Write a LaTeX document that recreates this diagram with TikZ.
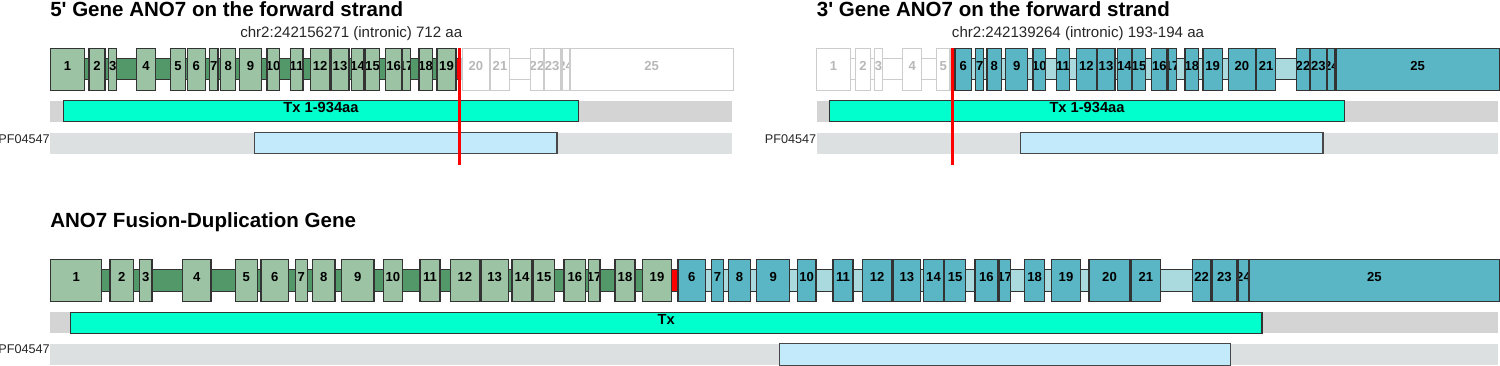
\documentclass[tikz,border=0pt]{standalone}
\usepackage{fontspec}
\setmainfont{Liberation Sans}[Ligatures=TeXOff]
\definecolor{gex}{HTML}{9CC4A4}
\definecolor{gin}{HTML}{529868}
\definecolor{tex}{HTML}{5AB6C4}
\definecolor{tin}{HTML}{AADADE}
\definecolor{edge}{HTML}{333333}
\definecolor{greyedge}{HTML}{CCCCCC}
\definecolor{greylab}{HTML}{B8B8B8}
\definecolor{txc}{HTML}{00FFCC}
\definecolor{txbg}{HTML}{D4D4D4}
\definecolor{pfc}{HTML}{C2EAFA}
\definecolor{pfbg}{HTML}{DCE0E0}
\begin{document}
\begin{tikzpicture}[x=0.75pt,y=-0.75pt,
  box/.style={rectangle, inner sep=0pt, outer sep=0pt, line width=0.8pt},
  gexon/.style={box, draw=edge, fill=gex, minimum height=31.5pt},
  texon/.style={box, draw=edge, fill=tex, minimum height=31.5pt},
  wexon/.style={box, draw=greyedge, fill=white, minimum height=31.5pt},
  gintron/.style={box, draw=edge, fill=gin, minimum height=16pt},
  tintron/.style={box, draw=edge, fill=tin, minimum height=16pt},
  wintron/.style={box, draw=greyedge, fill=white, minimum height=16pt},
  rintron/.style={box, draw=edge, fill=red, minimum height=16pt},
  exlab/.style={path picture={\node[inner sep=0pt, anchor=base, font=\bfseries\fontsize{9.8}{10}\selectfont] at ([yshift=-1.1pt]path picture bounding box.center) {#1};}},
  wexlab/.style={path picture={\node[inner sep=0pt, anchor=base, text=greylab, font=\bfseries\fontsize{9.8}{10}\selectfont] at ([yshift=-1.1pt]path picture bounding box.center) {#1};}},
  bgbar/.style={box, minimum height=16pt, anchor=west},
  txbar/.style={box, draw=edge, fill=txc, minimum height=16pt, anchor=west},
  pfbar/.style={box, draw=edge!90, fill=pfc, minimum height=16pt, anchor=west},
  title/.style={inner sep=0pt, anchor=base west, font=\bfseries\fontsize{15.4}{18}\selectfont},
  subtitle/.style={inner sep=0pt, anchor=base west, font=\fontsize{11.3}{13}\selectfont, text=black!85},
  txlab/.style={inner sep=0pt, anchor=base, font=\bfseries\fontsize{11}{12}\selectfont},
  pflab/.style={inner sep=0pt, anchor=base east, font=\fontsize{9.5}{11}\selectfont, text=black!85},
  redline/.style={draw=red, line width=2.25pt}
]
\useasboundingbox (0,0) rectangle (1500,366);

% ================= top-left panel =================
\node[title] (t1) at (50,16.7) {5' Gene ANO7 on the forward strand};
\node[subtitle] (s1) at (240,37.5) {chr2:242156271 (intronic) 712 aa};
\node[gintron, minimum width={(456-84.3)*0.75pt}, anchor=west] (tlgi) at (84.3,69.2) {};
\node[rintron, minimum width={(462-456)*0.75pt}, anchor=west] (tlri) at (456,69.2) {};
\node[wintron, minimum width={(570-462)*0.75pt}, anchor=west] (tlwi) at (462,69.2) {};
\foreach \a/\b/\l in {50.7/84.3/1, 89/105/2, 108.7/116.7/3, 136.3/155.7/4, 170.3/185.7/5, 187.3/205.3/6, 209.3/218/7, 220.7/235.7/8, 239.7/261.3/9, 267/279.3/10, 290.3/303/11, 310.3/330/12, 331/349/13, 351.3/364/14, 365.7/379.3/15, 385.7/401.7/16, 402/410.3/17, 419/432.3/18, 437/456/19}
  \node[gexon, exlab=\l, minimum width={(\b-\a)*0.75pt}, anchor=west] (tl\l) at (\a,69.2) {};
\foreach \a/\b/\l in {462.3/489.3/20, 490.3/509.7/21, 530.7/543.3/22, 544/560.3/23, 562/569.3/24, 570/733.3/25}
  \node[wexon, wexlab=\l, minimum width={(\b-\a)*0.75pt}, anchor=west] (tl\l) at (\a,69.2) {};
\node[bgbar, fill=txbg, minimum width={(731.7-50)*0.75pt}] (tltxbg) at (50,111.3) {};
\node[txbar, minimum width={(578.7-63.3)*0.75pt}] (tltx) at (63.3,111.3) {};
\node[txlab] (tltxl) at (321,112.7) {Tx 1-934aa};
\node[bgbar, fill=pfbg, minimum width={(731.7-50)*0.75pt}] (tlpfbg) at (50,143.2) {};
\node[pfbar, minimum width={(557-254.3)*0.75pt}] (tlpf) at (254.3,143.2) {};
\node[pflab] (tlpfl) at (50,143.3) {PF04547};
\coordinate (c1a) at (459.3,48);
\coordinate (c1b) at (459.3,165);
\draw[redline] (c1a) -- (c1b);

% ================= top-right panel =================
\node[title] (t2) at (816.7,16.7) {3' Gene ANO7 on the forward strand};
\node[subtitle] (s2) at (951.7,37.5) {chr2:242139264 (intronic) 193-194 aa};
\node[wintron, minimum width={(950-850.3)*0.75pt}, anchor=west] (trwi) at (850.3,69.2) {};
\node[tintron, minimum width={(1336-950)*0.75pt}, anchor=west] (trti) at (950,69.2) {};
\foreach \a/\b/\l in {816.7/850.3/1, 855.3/870.7/2, 874.3/882.7/3, 902.7/921.7/4, 936.3/950/5}
  \node[wexon, wexlab=\l, minimum width={(\b-\a)*0.75pt}, anchor=west] (tr\l) at (\a,69.2) {};
\foreach \a/\b/\l in {955/971.7/6, 975.7/983.7/7, 987/1001.7/8, 1005.7/1027.7/9, 1033/1045.7/10, 1056.3/1069.7/11, 1076.3/1096.3/12, 1097/1115/13, 1117.3/1131.3/14, 1132.3/1145.7/15, 1151.7/1167/16, 1168/1176.3/17, 1185/1198.7/18, 1203/1222.3/19, 1228.3/1255.3/20, 1256.7/1275.7/21, 1296.7/1309.3/22, 1310.3/1326.3/23, 1327.7/1335/24, 1336/1499.3/25}
  \node[texon, exlab=\l, minimum width={(\b-\a)*0.75pt}, anchor=west] (tr\l) at (\a,69.2) {};
\node[bgbar, fill=txbg, minimum width={(1498-816.7)*0.75pt}] (trtxbg) at (816.7,111.3) {};
\node[txbar, minimum width={(1344.7-829.3)*0.75pt}] (trtx) at (829.3,111.3) {};
\node[txlab] (trtxl) at (1087,112.7) {Tx 1-934aa};
\node[bgbar, fill=pfbg, minimum width={(1498-816.7)*0.75pt}] (trpfbg) at (816.7,143.2) {};
\node[pfbar, minimum width={(1323-1020.3)*0.75pt}] (trpf) at (1020.3,143.2) {};
\node[pflab] (trpfl) at (816.5,143.3) {PF04547};
\coordinate (c2a) at (952.7,48);
\coordinate (c2b) at (952.7,165);
\draw[redline] (c2a) -- (c2b);

% ================= bottom panel =================
\node[title] (t3) at (50,227.3) {ANO7 Fusion-Duplication Gene};
\node[gintron, minimum width={(671.7-101.7)*0.75pt}, anchor=west] (bgi) at (101.7,280.4) {};
\node[rintron, minimum width={(678-671.7)*0.75pt}, anchor=west] (bri) at (671.7,280.4) {};
\node[tintron, minimum width={(1249.3-678)*0.75pt}, anchor=west] (bti) at (678,280.4) {};
\foreach \a/\b/\l in {50.7/101.7/1, 110/133.3/2, 139.3/152/3, 182.7/211/4, 235.3/257.3/5, 261/288.7/6, 295.3/307.3/7, 312.7/335/8, 341.7/374/9, 383.3/402.3/10, 420/440/11, 450.3/479.3/12, 481/508.3/13, 512/532/14, 533.7/554.3/15, 564/585.7/16, 588.3/600/17, 615/635/18, 642.3/671.7/19}
  \node[gexon, exlab=\l, minimum width={(\b-\a)*0.75pt}, anchor=west] (bg\l) at (\a,280.4) {};
\foreach \a/\b/\l in {678/705.7/6, 711.3/723.7/7, 728.3/750.7/8, 756.7/789.7/9, 797.3/816/10, 833/853/11, 862.7/891.7/12, 893/920.7/13, 923.3/943.7/14, 944.7/965.7/15, 975/997.7/16, 999/1010.3/17, 1024.7/1044.7/18, 1051.3/1080.7/19, 1089/1130/20, 1131.3/1160.3/21, 1192.3/1211/22, 1212/1236.7/23, 1238/1249/24, 1249.3/1499.3/25}
  \node[texon, exlab=\l, minimum width={(\b-\a)*0.75pt}, anchor=west] (bt\l) at (\a,280.4) {};
\node[bgbar, fill=txbg, minimum width={(1498.3-50)*0.75pt}] (btxbg) at (50,322.8) {};
\node[txbar, minimum width={(1262-70.7)*0.75pt}] (btx) at (70.7,322.8) {};
\node[txlab] (btxl) at (666.3,325) {Tx};
\node[bgbar, fill=pfbg, minimum width={(1498.3-50)*0.75pt}] (bpfbg) at (50,354.5) {};
\node[pfbar, minimum width={(1230.7-779.3)*0.75pt}] (bpf) at (779.3,354.5) {};
\node[pflab] (bpfl) at (50,354) {PF04547};
\end{tikzpicture}
\end{document}
